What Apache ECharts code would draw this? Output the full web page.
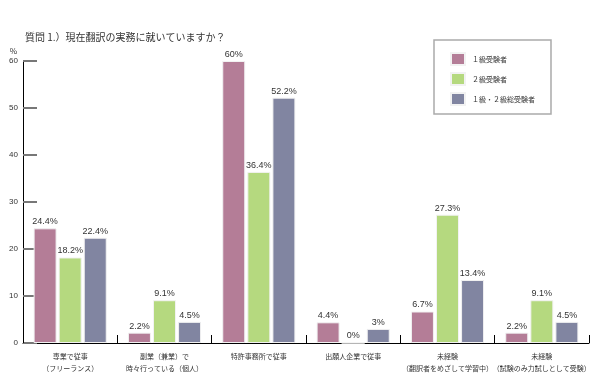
<!DOCTYPE html>
<html>
<head>
<meta charset="utf-8">
<script src="https://cdn.jsdelivr.net/npm/echarts@6/dist/echarts.min.js"></script>
<style>
html, body { margin: 0; padding: 0; background: #fff; }
#chart { width: 595px; height: 378px; }
</style>
</head>
<body>
<div id="chart"></div>
<script>
const categories = [
    '専業で従事\n（フリーランス）',
    '副業（兼業）で\n時々行っている（個人）',
    '特許事務所で従事',
    '出願人企業で従事',
    '未経験\n（翻訳者をめざして学習中）',
    '未経験\n（試験のみ力試しとして受験）',
]
const seriesNames = ['１級受験者', '２級受験者', '１級・２級総受験者']
const grade1 = [24.4, 2.2, 60, 4.4, 6.7, 2.2]
const grade2 = [18.2, 9.1, 36.4, 0, 27.3, 9.1]
const allExaminees = [22.4, 4.5, 52.2, 3, 13.4, 4.5]
const colors = ['#b47d97', '#b5d97f', '#8185a1']

const font = '"Noto Sans CJK JP", sans-serif'
const chart = echarts.init(document.getElementById('chart'))

const makeSeries = (name, data, color) => ({
    name,
    type: 'bar',
    data,
    barWidth: 23,
    barGap: '9%',
    itemStyle: { color, borderColor: '#f2f2f2', borderWidth: 1 },
    label: {
        show: true,
        position: 'top',
        distance: 2,
        color: '#333',
        fontSize: 9,
        fontFamily: 'Arial, sans-serif',
        formatter: p => p.value + '%',
    },
})

chart.setOption({
    animation: false,
    textStyle: { fontFamily: font },
    title: {
        text: '質問 1.）現在翻訳の実務に就いていますか？',
        left: 20,
        top: 27,
        textStyle: { fontSize: 10, fontWeight: 'normal', color: '#333', fontFamily: font },
    },
    legend: {
        orient: 'vertical',
        left: 434,
        top: 40,
        width: 114,
        itemWidth: 14,
        itemHeight: 12,
        itemGap: 6,
        padding: [12, 16, 8, 16],
        borderColor: '#aaa',
        borderWidth: 1.5,
        icon: 'rect',
        textStyle: { fontSize: 7, color: '#333', fontFamily: font, padding: [0, 0, 0, 2] },
        data: seriesNames,
    },
    grid: { left: 23, right: 6, top: 61, bottom: 35 },
    xAxis: {
        type: 'category',
        data: categories,
        axisLine: { lineStyle: { color: '#000', width: 1 } },
        axisTick: { show: true, inside: true, length: 8, lineStyle: { color: '#000' } },
        axisLabel: {
            color: '#333',
            fontSize: 7,
            lineHeight: 12,
            margin: 7,
            interval: 0,
            fontFamily: font,
        },
    },
    yAxis: {
        type: 'value',
        min: 0,
        max: 60,
        interval: 10,
        name: '%',
        nameGap: 6,
        nameTextStyle: { color: '#333', fontSize: 8, align: 'right', padding: [0, 6, 0, 0] },
        axisLine: { show: true, lineStyle: { color: '#000', width: 1 } },
        axisTick: { show: true, inside: true, length: 14, lineStyle: { color: '#777', width: 2 } },
        axisLabel: { color: '#333', fontSize: 8, margin: 5, fontFamily: 'Arial, sans-serif' },
        splitLine: { show: false },
    },
    series: [
        makeSeries(seriesNames[0], grade1, colors[0]),
        makeSeries(seriesNames[1], grade2, colors[1]),
        makeSeries(seriesNames[2], allExaminees, colors[2]),
    ],
})
</script>
</body>
</html>
